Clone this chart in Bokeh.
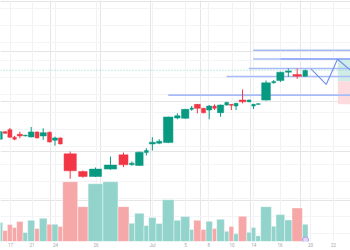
from bokeh.plotting import figure
from bokeh.models import (Range1d, LinearAxis, FixedTicker, SingleIntervalTicker,
                          Grid, ColumnDataSource, Span)
from bokeh.embed import file_html
from bokeh.resources import INLINE

# Bar boundaries on the time axis (each bar spans edges[i] .. edges[i+1])
edges = [-2.5, 2.2, 6.9, 11.9, 16.2, 22.5, 27.2, 34.2, 38.9, 46.5, 51.5, 57.5,
         62.2, 77.2, 87.6, 102.4, 117.5, 128.5, 134.2, 143.5, 148.2, 155.5,
         161.9, 173.5, 180.2, 189.2, 193.2, 200.5, 205.5, 211.9, 216.2, 223.9,
         228.5, 233.2, 237.9, 246.2, 250.9, 255.2, 260.2, 270.9, 275.5, 284.2,
         291.5, 301.9, 307.5]

opens = [111.9, 119.5, 121.5, 113.9, 116.9, 115.2, 114.2, 119.2, 115.2, 118.9,
         110.9, 113.2, 97.2, 79.5, 74.5, 81.9, 96.2, 86.2, 85.5, 98.5, 107.2,
         107.9, 108.5, 133.2, 132.9, 141.9, 146.9, 142.9, 141.2, 145.2, 138.5,
         146.2, 146.9, 145.2, 151.2, 149.5, 145.2, 146.9, 151.2, 168.5, 170.9,
         179.2, 176.9, 175.2]
highs = [120.2, 119.9, 123.2, 115.2, 119.5, 116.4, 124.2, 119.7, 122.9, 119.5,
         114.5, 113.7, 99.5, 80.5, 83.5, 94.5, 98.5, 89.5, 99.4, 102.9, 113.9,
         111.9, 134.7, 137.9, 142.4, 145.2, 147.2, 143.4, 146.2, 146.9, 146.7,
         149.4, 147.2, 148.4, 161.9, 151.7, 147.4, 148.0, 170.9, 171.2, 179.7,
         182.9, 182.9, 181.7]
lows = [111.2, 117.5, 113.4, 110.9, 112.9, 114.8, 113.7, 112.7, 111.2, 108.7,
        105.5, 106.7, 72.2, 73.2, 73.9, 81.2, 83.9, 85.5, 85.0, 95.5, 100.5,
        106.9, 108.0, 131.9, 132.4, 140.5, 137.9, 138.0, 131.9, 141.2, 134.5,
        145.7, 141.2, 141.2, 147.9, 149.0, 142.2, 146.5, 150.7, 167.9, 169.2,
        174.5, 172.5, 174.7]
closes = [119.5, 117.9, 113.9, 111.9, 115.2, 115.9, 119.2, 113.2, 118.5, 109.2,
          113.2, 107.2, 80.2, 74.5, 81.9, 85.9, 86.2, 87.9, 98.9, 100.5, 108.9,
          109.9, 134.2, 135.5, 141.9, 143.2, 142.9, 138.5, 145.2, 142.9, 146.2,
          148.9, 145.9, 147.9, 149.5, 151.2, 146.9, 147.5, 168.5, 169.9, 179.2,
          180.5, 175.2, 181.2]
volumes = [19, 11, 17, 14, 20, 9, 21.3, 13, 23.3, 17.3, 17.3, 15, 60, 35, 58,
           60, 35, 18.3, 28.3, 16, 24, 18, 42, 21.3, 25, 12, 21.3, 12, 20.3, 13,
           22.3, 10.3, 15, 7.7, 25.3, 9.3, 14, 5.7, 35, 15.3, 27, 21.7, 33.7,
           17.3]

# Drawn levels: (price, start time)
level_prices = [201.2, 192.5, 182.9, 174.9, 156.2]
level_starts = [252.7, 252.7, 248.3, 226.0, 167.7]

# Projected path
path_t = [310.7, 325.7, 337.0, 352.0]
path_p = [182.2, 166.9, 192.2, 179.5]

# Long-position box: target / entry / stop
box_left = 337.3
target_price, entry_price, stop_price = 192.5, 170.2, 146.9

tick_pos = [10, 31.5, 55, 95.5, 152, 185, 208.3, 231.5, 253.3, 279.5, 310, 333]
tick_labels = ["17", "21", "24", "26", "Jul", "5", "8", "10", "14", "16", "20", "22"]

UP, DOWN = "#089981", "#f23645"
UP_VOL, DOWN_VOL = "#92d3cb", "#f6a7a8"

n = len(opens)
up = [c >= o for o, c in zip(opens, closes)]
centers = [(edges[i] + edges[i + 1]) / 2 for i in range(n)]
spans = [edges[i + 1] - edges[i] for i in range(n)]
src = ColumnDataSource(dict(
    x=centers,
    left=edges[:-1], right=edges[1:],
    body_w=[s * 0.82 for s in spans],
    top=[max(o, c) for o, c in zip(opens, closes)],
    bottom=[min(o, c) for o, c in zip(opens, closes)],
    high=highs, low=lows, vol=volumes,
    color=[UP if u else DOWN for u in up],
    vcolor=[UP_VOL if u else DOWN_VOL for u in up],
))

p = figure(width=350, height=250, output_backend="svg", toolbar_location=None,
           x_range=Range1d(0, 350), y_range=Range1d(9.2, 251.2),
           x_axis_location=None, y_axis_location=None, min_border=0,
           outline_line_color=None, background_fill_color="white")
p.extra_y_ranges = {"vol": Range1d(0, 242)}

# grid
p.add_layout(Grid(dimension=0, ticker=FixedTicker(ticks=tick_pos),
                  grid_line_color="#f1f2f5", grid_line_width=1))
p.add_layout(Grid(dimension=1, ticker=SingleIntervalTicker(interval=17.4),
                  grid_line_color="#f3f4f7", grid_line_width=1))

# volume
p.quad(left="left", right="right", bottom=0, top="vol", source=src,
       fill_color="vcolor", line_color="white", line_width=0.6,
       line_alpha=0.7, y_range_name="vol")

# long position box
p.quad(left=box_left, right=360, bottom=entry_price, top=target_price,
       fill_color="#cfece7", line_color=None)
p.quad(left=box_left, right=360, bottom=stop_price, top=entry_price,
       fill_color="#fcdadd", line_color=None)

# last price line
p.add_layout(Span(location=closes[-1], dimension="width", line_color="#8fd3c9",
                  line_dash="1 2", line_width=1))

# horizontal levels
for lp, ls in zip(level_prices, level_starts):
    p.segment(x0=ls, x1=360, y0=lp, y1=lp, line_color="#a9bbf7", line_width=1.6)
p.segment(x0=280, x1=360, y0=level_prices[1], y1=level_prices[1],
          line_color="#90a8f4", line_width=1.6)

# candles
p.segment(x0="x", x1="x", y0="low", y1="high", source=src, line_color="color",
          line_width=1)
p.vbar(x="x", width="body_w", top="top", bottom="bottom", source=src,
       fill_color="color", line_color="color", line_width=0.5)

# projection
p.line(path_t, path_p, line_color="#6d8ef0", line_width=1.1)

# small marker near the last bar
p.scatter([centers[-1] + 0.3], [1.5], y_range_name="vol", size=6,
          fill_color="#e4d8f8", line_color="#b39ae6", line_width=1)

xaxis = LinearAxis(ticker=FixedTicker(ticks=tick_pos),
                   major_label_overrides={t: l for t, l in zip(tick_pos, tick_labels)},
                   axis_line_color=None, major_tick_line_color=None,
                   minor_tick_line_color=None, major_tick_out=0, major_tick_in=0,
                   major_label_standoff=1, major_label_text_font_size="4.5px",
                   major_label_text_color="#a3a6ae",
                   major_label_text_font="Roboto")
p.add_layout(xaxis, "below")

open("out.html", "w").write(file_html(p, INLINE))
